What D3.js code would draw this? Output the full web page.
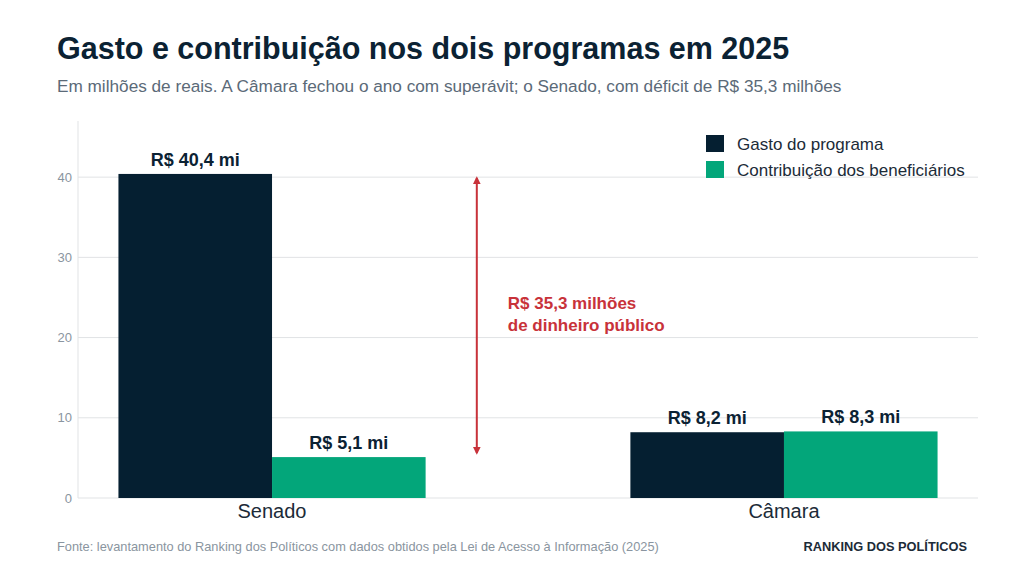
<!DOCTYPE html>
<html>
<head>
<meta charset="utf-8">
<script src="https://cdn.jsdelivr.net/npm/d3@7"></script>
<style>
  body { margin: 0; background: #fff; }
  svg { font-family: "Liberation Sans", Arial, sans-serif; }
</style>
</head>
<body>
<div class="canva"></div>
<script>
// data
const categories = ['Senado', 'Câmara'];
const seriesNames = ['Gasto do programa', 'Contribuição dos beneficiários'];
const gasto = [40.4, 8.2];
const contribuicao = [5.1, 8.3];
const valueLabels = [['R$ 40,4 mi', 'R$ 5,1 mi'], ['R$ 8,2 mi', 'R$ 8,3 mi']];
const yTicks = [0, 10, 20, 30, 40];
const colors = ['#051f31', '#03a67a'];

const width = 1024, height = 576;
const plotL = 78, plotR = 978, plotT = 121, plotB = 498;

const svg = d3.select('.canva').append('svg')
  .attr('width', width)
  .attr('height', height);

const x = d3.scaleBand()
  .domain(categories)
  .range([plotL, plotR])
  .paddingInner(0.4)
  .paddingOuter(0.079);

const xSub = d3.scaleBand()
  .domain([0, 1])
  .range([0, x.bandwidth()]);

const y = d3.scaleLinear()
  .domain([0, 47])
  .range([plotB, plotT]);

// grid
svg.append('g').selectAll('line')
  .data(yTicks)
  .enter().append('line')
  .attr('x1', plotL).attr('x2', plotR)
  .attr('y1', d => y(d)).attr('y2', d => y(d))
  .attr('stroke', '#e1e3e5').attr('stroke-width', 1);

svg.append('line')
  .attr('x1', plotL).attr('x2', plotL)
  .attr('y1', plotT).attr('y2', plotB)
  .attr('stroke', '#e1e3e5');

// y axis labels
const yAxis = svg.append('g')
  .attr('transform', `translate(${plotL},0)`)
  .call(d3.axisLeft(y).tickValues(yTicks).tickSize(0).tickPadding(6));
yAxis.select('.domain').remove();
yAxis.selectAll('text')
  .attr('fill', '#8a95a0')
  .style('font-size', '13px')
  .style('font-family', '"Liberation Sans", Arial, sans-serif');

// bars
const rows = categories.map((c, i) => ({ cat: c, vals: [gasto[i], contribuicao[i]], labels: valueLabels[i] }));

const groups = svg.selectAll('.grp')
  .data(rows)
  .enter().append('g')
  .attr('transform', d => `translate(${x(d.cat)},0)`);

groups.selectAll('rect')
  .data(d => d.vals)
  .enter().append('rect')
  .attr('x', (d, i) => xSub(i))
  .attr('width', xSub.bandwidth())
  .attr('y', d => y(d))
  .attr('height', d => y(0) - y(d))
  .attr('fill', (d, i) => colors[i]);

groups.selectAll('text.val')
  .data(d => d.vals.map((v, i) => ({ v, label: d.labels[i] })))
  .enter().append('text')
  .attr('class', 'val')
  .attr('x', (d, i) => xSub(i) + xSub.bandwidth() / 2)
  .attr('y', d => y(d.v) - 8)
  .attr('text-anchor', 'middle')
  .attr('fill', '#0b2233')
  .style('font-size', '18px')
  .style('font-weight', 'bold')
  .text(d => d.label);

// category labels
svg.selectAll('text.cat')
  .data(categories)
  .enter().append('text')
  .attr('class', 'cat')
  .attr('x', d => x(d) + x.bandwidth() / 2)
  .attr('y', plotB + 20)
  .attr('text-anchor', 'middle')
  .attr('fill', '#1c2b38')
  .style('font-size', '20px')
  .text(d => d);

// deficit arrow
const red = '#c8323a';
const defs = svg.append('defs');
['start', 'end'].forEach(k => {
  defs.append('marker')
    .attr('id', 'arr-' + k)
    .attr('viewBox', '0 0 10 10')
    .attr('refX', 8).attr('refY', 5)
    .attr('markerWidth', 4).attr('markerHeight', 4)
    .attr('orient', 'auto-start-reverse')
    .append('path')
    .attr('d', 'M0,0 L10,5 L0,10 z')
    .attr('fill', red);
});
// just right of the Senado group
const arrowX = x('Senado') + x.bandwidth() + x.step() * 0.1;
svg.append('line')
  .attr('x1', arrowX).attr('x2', arrowX)
  .attr('y1', y(gasto[0]) + 4).attr('y2', y(contribuicao[0]) - 4)
  .attr('stroke', red).attr('stroke-width', 2)
  .attr('marker-start', 'url(#arr-start)')
  .attr('marker-end', 'url(#arr-end)');

const note = svg.append('text')
  .attr('x', arrowX + 31).attr('y', 309)
  .attr('fill', red)
  .style('font-size', '17px')
  .style('font-weight', 'bold');
note.append('tspan').attr('x', arrowX + 31).text('R$ 35,3 milhões');
note.append('tspan').attr('x', arrowX + 31).attr('dy', 22).text('de dinheiro público');

// legend
const legend = svg.append('g').attr('transform', 'translate(706,135)');
seriesNames.forEach((s, i) => {
  const g = legend.append('g').attr('transform', `translate(0,${i * 26})`);
  g.append('rect').attr('width', 18).attr('height', 17).attr('fill', colors[i]);
  g.append('text')
    .attr('x', 31).attr('y', 14.5)
    .attr('fill', '#1c2b38')
    .style('font-size', '17px')
    .text(s);
});

// titles
svg.append('text')
  .attr('x', 57).attr('y', 59)
  .attr('fill', '#0b2233')
  .style('font-size', '30.5px')
  .style('font-weight', 'bold')
  .text('Gasto e contribuição nos dois programas em 2025');

svg.append('text')
  .attr('x', 57).attr('y', 92)
  .attr('fill', '#5b6a78')
  .style('font-size', '17.2px')
  .text('Em milhões de reais. A Câmara fechou o ano com superávit; o Senado, com déficit de R$ 35,3 milhões');

// footer
svg.append('text')
  .attr('x', 57).attr('y', 551)
  .attr('fill', '#8a95a0')
  .style('font-size', '12.8px')
  .text('Fonte: levantamento do Ranking dos Políticos com dados obtidos pela Lei de Acesso à Informação (2025)');

svg.append('text')
  .attr('x', 967).attr('y', 551)
  .attr('text-anchor', 'end')
  .attr('fill', '#1c2b38')
  .style('font-size', '12.8px')
  .style('font-weight', 'bold')
  .text('RANKING DOS POLÍTICOS');
</script>
</body>
</html>
